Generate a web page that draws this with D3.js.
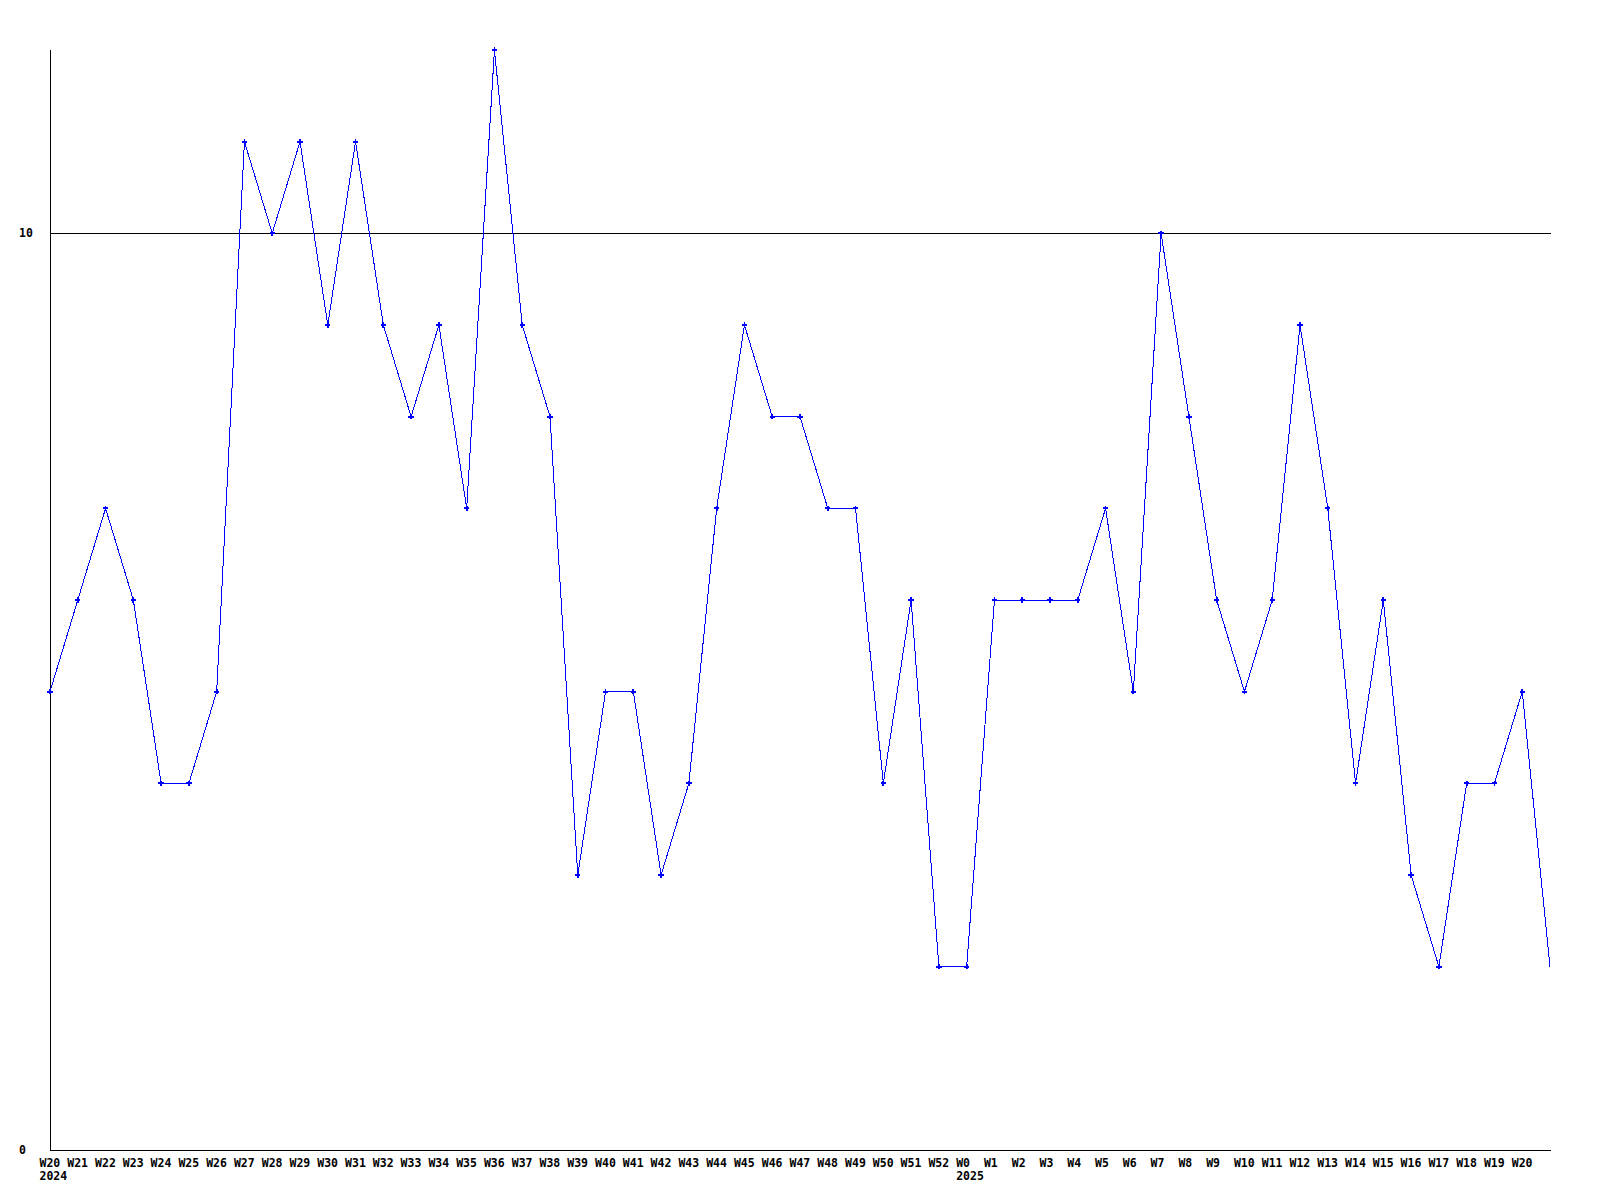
<!DOCTYPE html>
<html><head><meta charset="utf-8">
<script src="https://cdn.jsdelivr.net/npm/d3@7"></script>
<style>body{margin:0;background:#fff;} text{font-family:"DejaVu Sans Mono",monospace;font-weight:bold;font-size:11.5px;fill:#000;}</style>
</head><body><svg id="c" width="1600" height="1200"></svg>
<script>
const weeks = ["W20","W21","W22","W23","W24","W25","W26","W27","W28","W29","W30","W31","W32","W33","W34","W35","W36","W37","W38","W39","W40","W41","W42","W43","W44","W45","W46","W47","W48","W49","W50","W51","W52","W0","W1","W2","W3","W4","W5","W6","W7","W8","W9","W10","W11","W12","W13","W14","W15","W16","W17","W18","W19","W20",""];
const years = [{idx:0,label:"2024"},{idx:33,label:"2025"}];
const values = [5,6,7,6,4,4,5,11,10,11,9,11,9,8,9,7,12,9,8,3,5,5,3,4,7,9,8,8,7,7,4,6,2,2,6,6,6,6,7,5,10,8,6,5,6,9,7,4,6,3,2,4,4,5,2];
const yTicks = [0,10];

const svg = d3.select("#c");
const x0 = 50, x1 = 1550, yTop = 50, yBot = 1150;
const x = d3.scaleLinear().domain([0, values.length-1]).range([x0, x1]);
const y = d3.scaleLinear().domain([0, 12]).range([yBot, yTop]);

// axes
svg.append("line").attr("x1",x0+0.5).attr("x2",x0+0.5).attr("y1",yTop).attr("y2",yBot).attr("stroke","#000");
svg.append("line").attr("x1",x0).attr("x2",x1+1).attr("y1",yBot+0.5).attr("y2",yBot+0.5).attr("stroke","#000");
yTicks.forEach(t=>{
  if(t>0) svg.append("line").attr("x1",x0).attr("x2",x1+1).attr("y1",Math.round(y(t))+0.5).attr("y2",Math.round(y(t))+0.5).attr("stroke","#000");
  svg.append("text").attr("x",19).attr("y",y(t)).attr("dy","0.35em").text(t);
});
weeks.forEach((w,i)=>{
  if(!w) return;
  svg.append("text").attr("x",x(i)-10.5).attr("y",1167).text(w);
});
years.forEach(yr=>{
  svg.append("text").attr("x",x(yr.idx)-10.5).attr("y",1180).text(yr.label);
});

const line = d3.line().x((d,i)=>x(i)).y(d=>y(d));
svg.append("path").datum(values).attr("d",line).attr("fill","none").attr("stroke","#0000ff").attr("stroke-width",1).attr("shape-rendering","crispEdges");
svg.selectAll("path.m").data(values.slice(0,values.length-1)).enter().append("path")
  .attr("class","m")
  .attr("d",d3.symbol().type(d3.symbolCross).size(16))
  .attr("transform",(d,i)=>`translate(${x(i)},${y(d)})`)
  .attr("fill","#0000ff").attr("shape-rendering","crispEdges");
</script></body></html>
